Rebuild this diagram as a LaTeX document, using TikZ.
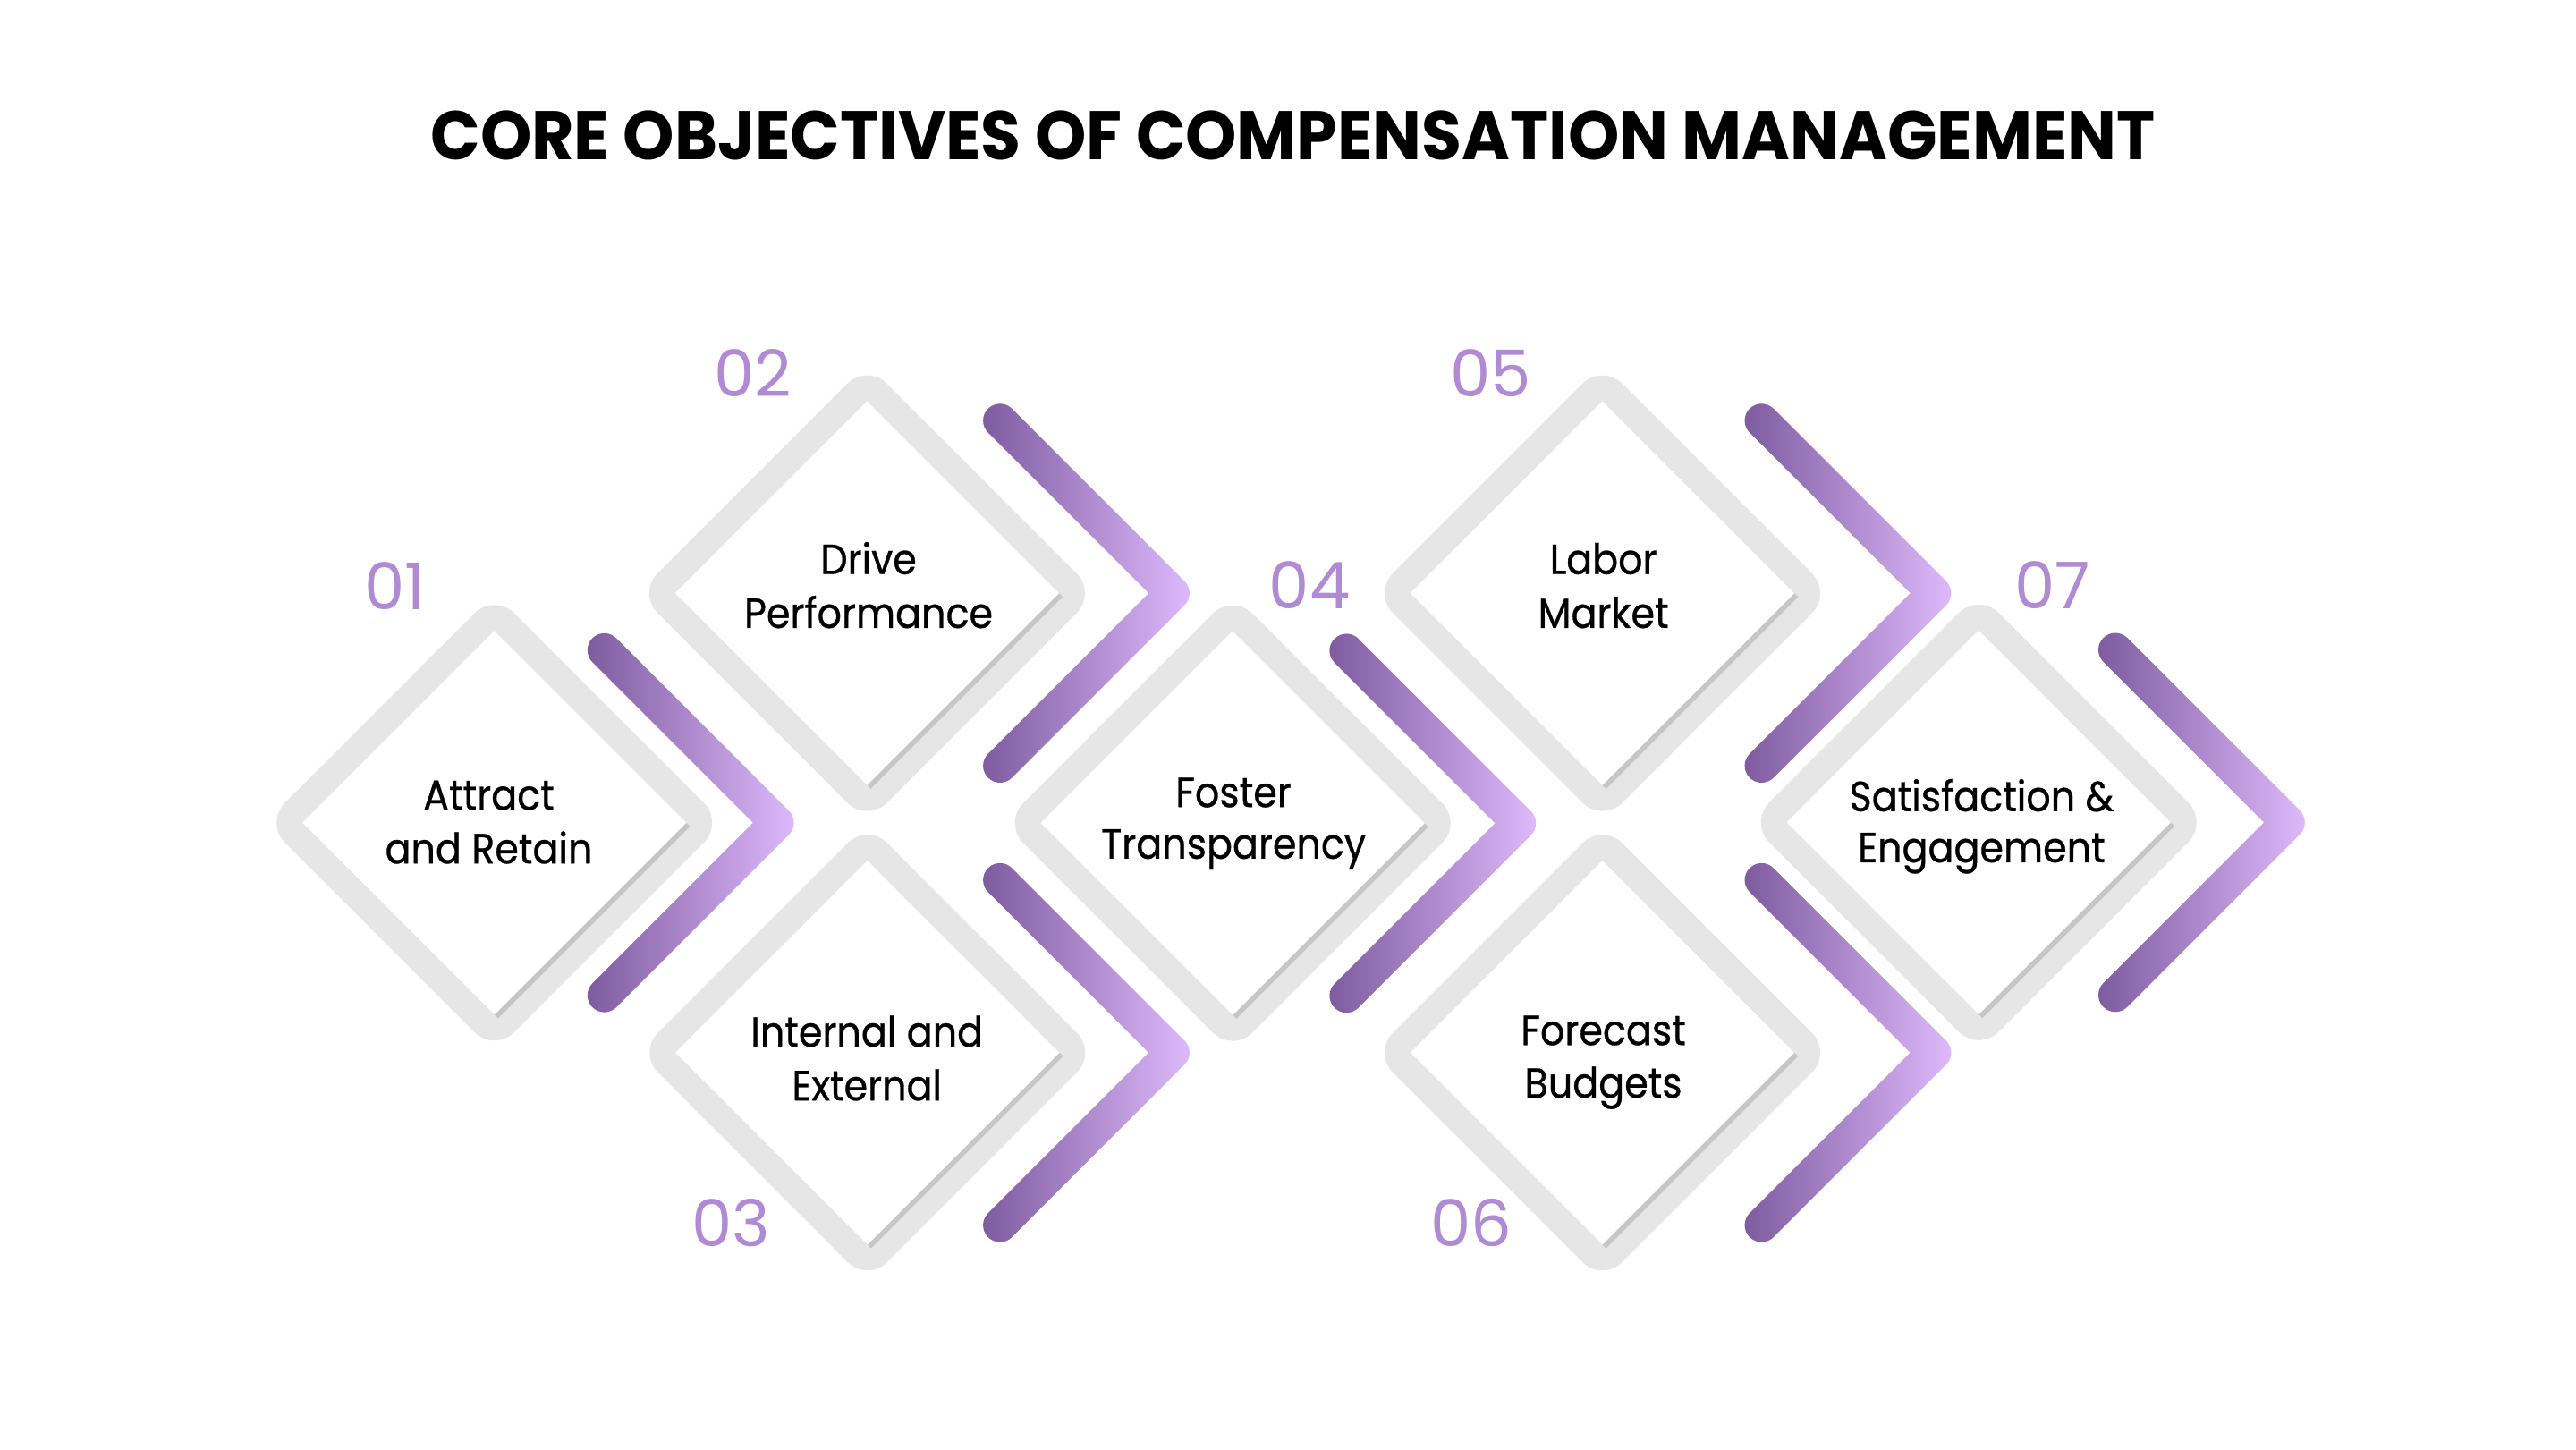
\documentclass[tikz,border=0pt]{standalone}
\usepackage{fontspec}
\setmainfont{Poppins}
\newfontfamily\lblfont{Poppins}[FakeStretch=0.91, FakeBold=0.6]
\newfontfamily\ttlfont{Poppins}[FakeStretch=0.95]
\definecolor{framec}{HTML}{E6E6E6}
\definecolor{shadc}{HTML}{C6C6C6}
\definecolor{numc}{HTML}{B08AD3}
\definecolor{chevL}{HTML}{7E5A9F}
\definecolor{chevR}{HTML}{DEB9FB}
\newcommand\dmd[2]{%
  \begin{scope}[shift={(#1,#2)}]
    \fill[framec] (69.45,-69.45) [rounded corners=17pt] -- (138.9,0) -- (0,138.9) -- (-138.9,0) -- (0,-138.9) -- cycle;
    \fill[shadc] (2.2,-114.1) -- (118.5,2.2) -- (2.2,118.5) -- (-114.1,2.2) -- cycle;
    \fill[white] (0,-116.3) -- (116.3,0) -- (0,116.3) -- (-116.3,0) -- cycle;
  \end{scope}}
\newcommand\chev[2]{%
  \begin{scope}[shift={(#1,#2)}]
    \shade[left color=chevL, right color=chevR] (7.25,-111.75) -- (111.75,-7.25)
      arc[start angle=-45, end angle=45, radius=10.25] -- (7.25,111.75)
      arc[start angle=45, end angle=225, radius=10.25] -- (90,0) -- (-7.25,-97.25)
      arc[start angle=135, end angle=315, radius=10.25] -- cycle;
  \end{scope}}
\tikzset{
  lbl/.style={anchor=base, inner sep=0pt, font=\lblfont\fontsize{25.5}{30}\selectfont, text=black},
  num/.style={anchor=base, inner sep=0pt, font=\fontsize{39}{44}\selectfont, text=numc},
  ttl/.style={anchor=base, inner sep=0pt, font=\ttlfont\fontsize{41.6}{48}\selectfont\bfseries, text=black}
}
\begin{document}
\begin{tikzpicture}[x=1pt, y=-1pt]
\useasboundingbox (0,0) rectangle (1560,878);
\fill[white] (0,0) rectangle (1560,878);
\node[ttl] (title) at (783,96.6) {CORE OBJECTIVES OF COMPENSATION MANAGEMENT};
% diamonds
\dmd{299.4}{498.2}
\dmd{525.1}{359.2}
\dmd{525.3}{637.4}
\dmd{746.5}{498.4}
\dmd{970.4}{359.2}
\dmd{970.4}{637.4}
\dmd{1198.3}{498}
% chevrons
\chev{366}{498.2}
\chev{605.6}{359.2}
\chev{605.6}{637.4}
\chev{815.4}{498.5}
\chev{1066.8}{359.2}
\chev{1066.8}{637.4}
\chev{1281}{498}
% labels
\node[lbl] (t1a) at (296,490.4) {Attract};
\node[lbl] (t1b) at (296,522.8) {and Retain};
\node[lbl] (t2a) at (526,347.6) {Drive};
\node[lbl] (t2b) at (526,380.2) {Performance};
\node[lbl] (t3a) at (525,633.8) {Internal and};
\node[lbl] (t3b) at (525,666.3) {External};
\node[lbl] (t4a) at (747,488.7) {Foster};
\node[lbl] (t4b) at (747,519.9) {Transparency};
\node[lbl] (t5a) at (971,347.6) {Labor};
\node[lbl] (t5b) at (971,380.2) {Market};
\node[lbl] (t6a) at (971,632.8) {Forecast};
\node[lbl] (t6b) at (971,664.7) {Budgets};
\node[lbl] (t7a) at (1200,491.2) {Satisfaction \&};
\node[lbl] (t7b) at (1200,522.1) {Engagement};
% numbers
\node[num] (n1) at (239,369) {01};
\node[num] (n2) at (455.8,240) {02};
\node[num] (n3) at (442.8,754.8) {03};
\node[num] (n4) at (793.1,368.8) {04};
\node[num] (n5) at (902.6,240) {05};
\node[num] (n6) at (891,755) {06};
\node[num] (n7) at (1243,368.7) {07};
\end{tikzpicture}
\end{document}
